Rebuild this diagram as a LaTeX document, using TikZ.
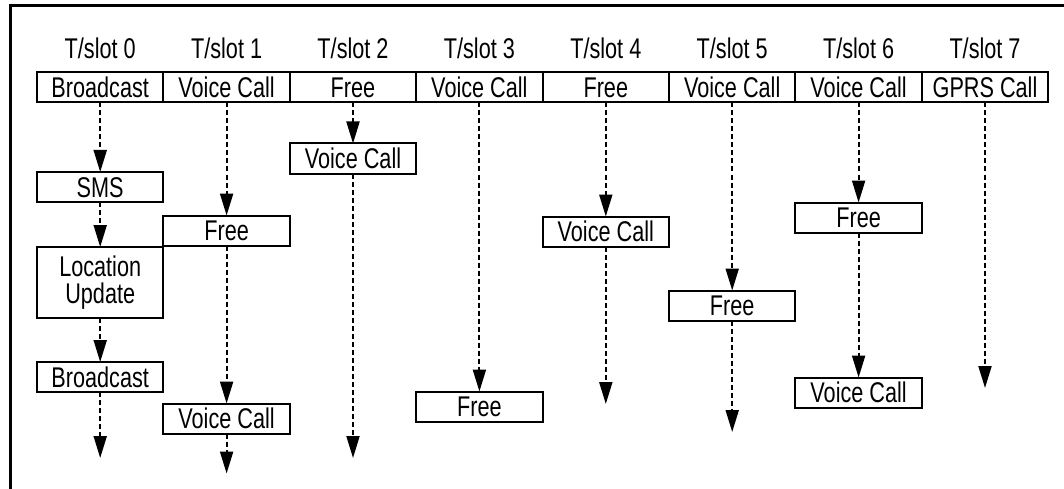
\documentclass[tikz,border=0pt]{standalone}
\usepackage{fontspec}
\newfontfamily\slotfont[FakeStretch=0.76]{Liberation Sans}
\usepackage{tikz}
\usetikzlibrary{positioning, arrows.meta}

\begin{document}
\begin{tikzpicture}[
    x=1pt, y=-1pt,
    every node/.style={font=\slotfont\fontsize{28.5}{27}\selectfont, inner sep=0pt, outer sep=0pt},
    slotbox/.style={draw, line width=2pt, minimum width=126.4pt, minimum height=30pt, text height=20pt, text depth=0pt},
    twobox/.style={draw, line width=2pt, minimum width=126.4pt, minimum height=71pt, align=center},
    flow/.style={line width=2pt, dash pattern=on 5pt off 3pt, -{Triangle[length=22pt, width=13pt]}}
]
\useasboundingbox (0,0) rectangle (1064,489);

% Frame
\draw[line width=3pt] (10,489) -- (10,6) -- (1064,6);

% Top row
\node[slotbox] (top0) at (100.2,87.5) {Broadcast};
\node[slotbox] (top1) [right=0pt of top0] {Voice Call};
\node[slotbox] (top2) [right=0pt of top1] {Free};
\node[slotbox] (top3) [right=0pt of top2] {Voice Call};
\node[slotbox] (top4) [right=0pt of top3] {Free};
\node[slotbox] (top5) [right=0pt of top4] {Voice Call};
\node[slotbox] (top6) [right=0pt of top5] {Voice Call};
\node[slotbox] (top7) [right=0pt of top6] {GPRS Call};

% Labels
\foreach \i in {0,...,7}
    \path (top\i.north) ++(0,-13.5) node[anchor=base] (lab\i) {T/slot \i};

% Nodes
\node[slotbox] (sms) [below=69.5pt of top0] {SMS};
\node[twobox] (locupd) [below=45pt of sms] {Location\\Update};
\node[slotbox] (bcast) [below=44pt of locupd] {Broadcast};
\coordinate[below=66pt of bcast] (end0);

\node[slotbox] (free1) [below=113pt of top1] {Free};
\node[slotbox] (voice1) [below=158pt of free1] {Voice Call};
\coordinate[below=40pt of voice1] (end1);

\node[slotbox] (voice2) [below=41pt of top2] {Voice Call};
\coordinate[below=284.5pt of voice2] (end2);

\node[slotbox] (free3) [below=289pt of top3] {Free};

\node[slotbox] (voice4) [below=114pt of top4] {Voice Call};
\coordinate[below=157.5pt of voice4] (end4);

\node[slotbox] (free5) [below=188pt of top5] {Free};
\coordinate[below=111.5pt of free5] (end5);

\node[slotbox] (free6) [below=100pt of top6] {Free};
\node[slotbox] (voice6) [below=145pt of free6] {Voice Call};

\coordinate[below=285.5pt of top7] (end7);

% Arrows
\draw[flow] (top0) -- (sms);
\draw[flow] (sms) -- (locupd);
\draw[flow] (locupd) -- (bcast);
\draw[flow] (bcast) -- (end0);
\draw[flow] (top1) -- (free1);
\draw[flow] (free1) -- (voice1);
\draw[flow] (voice1) -- (end1);
\draw[flow] (top2) -- (voice2);
\draw[flow] (voice2) -- (end2);
\draw[flow] (top3) -- (free3);
\draw[flow] (top4) -- (voice4);
\draw[flow] (voice4) -- (end4);
\draw[flow] (top5) -- (free5);
\draw[flow] (free5) -- (end5);
\draw[flow] (top6) -- (free6);
\draw[flow] (free6) -- (voice6);
\draw[flow] (top7) -- (end7);

\end{tikzpicture}
\end{document}
